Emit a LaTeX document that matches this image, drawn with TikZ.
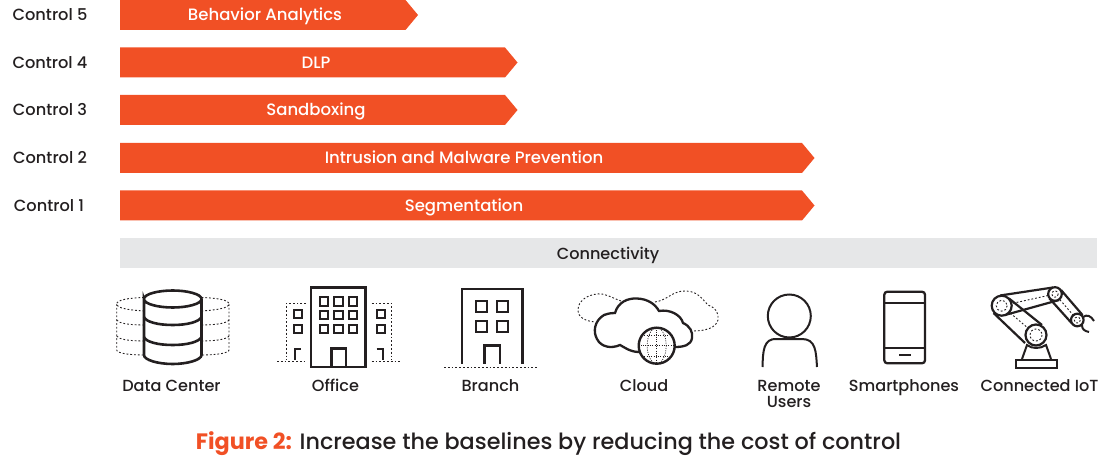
\documentclass[tikz,border=0pt]{standalone}
\usepackage{fontspec}
\setmainfont{Poppins}
\newfontfamily\medfont{Poppins Medium}
\definecolor{org}{HTML}{F15025}
\definecolor{ink}{HTML}{231F20}
\definecolor{band}{HTML}{E6E7E8}
\newcommand{\barshape}[5]{%
  \fill[org] (120,#1) -- (#2,#1) -- (#2+12.5,#1+15) -- (#2,#1+30) -- (120,#1+30) -- cycle;
  \node[bartext] (#3) at (#4,#1+15) {#5};}
\newcommand{\win}[3]{\draw[icon,line width=2] (#1-#3/2,#2-#3/2) rectangle (#1+#3/2,#2+#3/2);}
\tikzset{
  x=1pt,y=-1pt,
  fixedline/.style={inner sep=0,text height=13.5pt,text depth=1.5pt},
  bartext/.style={fixedline,text=white,font=\fontsize{16.5}{18}\selectfont\medfont},
  ctl/.style={fixedline,text=ink,font=\fontsize{16.2}{18}\selectfont\medfont},
  lbl/.style={fixedline,text=ink,font=\fontsize{16.1}{18}\selectfont\medfont},
  icon/.style={draw=ink,line width=2.1,line cap=butt,line join=miter},
  thin icon/.style={draw=ink,line width=0.9,dash pattern=on 1.8 off 2},
}
\begin{document}
\begin{tikzpicture}
\useasboundingbox (0,0) rectangle (1100,462);
% labels
\node[ctl] (c5) at (50,15) {Control 5};
\node[ctl] (c4) at (50,62.5) {Control 4};
\node[ctl] (c3) at (50,110) {Control 3};
\node[ctl] (c2) at (50,158) {Control 2};
\node[ctl] (c1) at (49,205.5) {Control 1};
% bars
\barshape{0}{405.5}{b5}{265}{Behavior Analytics}
\barshape{47.5}{505}{b4}{316}{DLP}
\barshape{95}{505}{b3}{316}{Sandboxing}
\barshape{143}{802}{b2}{464}{Intrusion and Malware Prevention}
\barshape{190.5}{802}{b1}{464}{Segmentation}
\fill[band] (120,238) rectangle (1097,268);
\node[lbl] (conn) at (608,253.5) {Connectivity};
% --- Data center
\draw[thin icon] (144,297.5) .. controls (128,298) and (116.7,300) .. (116.7,304) .. controls (116.7,308) and (128,310) .. (144,311);
\draw[thin icon] (116.7,304) -- (116.7,350) .. controls (116.7,353) and (128,355) .. (144,355);
\draw[thin icon] (116.7,320) .. controls (118,323) and (128,325) .. (144,325);
\draw[thin icon] (116.7,336) .. controls (118,339) and (128,341) .. (144,341);
\draw[thin icon] (201.5,297.5) .. controls (217,298) and (229,300) .. (229,304) .. controls (229,308) and (217,310) .. (201.5,311);
\draw[thin icon] (229,304) -- (229,350) .. controls (229,353) and (217,355) .. (201.5,355);
\draw[thin icon] (229,320) .. controls (227,323) and (217,325) .. (201.5,325);
\draw[thin icon] (229,336) .. controls (227,339) and (217,341) .. (201.5,341);
\draw[icon,line width=2.6] (144,299) .. controls (144,294) and (158,290.5) .. (172.8,290.5) .. controls (187,290.5) and (201.5,294) .. (201.5,299) .. controls (201.5,304) and (187,307.5) .. (172.8,307.5) .. controls (158,307.5) and (144,304) .. (144,299) -- (144,355) .. controls (144,360) and (158,364) .. (172.8,364) .. controls (187,364) and (201.5,360) .. (201.5,355) -- (201.5,299);
\draw[icon,line width=2.6] (144,317) .. controls (146,322) and (158,325) .. (172.8,325) .. controls (187,325) and (199,322) .. (201.5,317);
\draw[icon,line width=2.6] (144,337) .. controls (146,342) and (158,345) .. (172.8,345) .. controls (187,345) and (199,342) .. (201.5,337);
\node[lbl] (dc) at (171.5,385.5) {Data Center};
% --- Office
\draw[icon,line width=2.6] (311,287.5) rectangle (365.7,367);
\foreach \wx in {324,338.5,353}{\foreach \wy in {301.5,315,329}{\win{\wx}{\wy}{8.5}}}
\draw[icon,line width=2.5] (331.5,367) -- (331.5,348.5) -- (346,348.5) -- (346,367);
\win{297.5}{314}{8}\win{297.5}{328.5}{8}\win{380.5}{314}{8}\win{380.5}{328.5}{8}
\draw[icon] (295,360) -- (295,349) -- (301,349);
\draw[icon] (376.7,349) -- (383,349) -- (383,360);
\draw[thin icon] (306,303.3) -- (286,303.3) -- (286,360);
\draw[thin icon] (371.7,303.3) -- (391.7,303.3) -- (391.7,360);
\draw[thin icon] (277,361.7) -- (306,361.7);
\draw[thin icon] (371.7,361.7) -- (400,361.7);
\node[lbl] (office) at (335.5,385.5) {Office};
% --- Branch
\draw[icon,line width=2.6] (462,363.5) -- (462,289) -- (522.7,289) -- (522.7,363.5);
\foreach \wx in {481.7,502.3}{\foreach \wy in {306.7,326}{\win{\wx}{\wy}{11}}}
\draw[icon,line width=2.5] (484.3,363.5) -- (484.3,345.7) -- (500,345.7) -- (500,363.5);
\draw[thin icon] (444,367) -- (537,367);
\node[lbl] (branch) at (490.5,385.5) {Branch};
% --- Cloud
\draw[thin icon] (621,301) .. controls (610,297) and (605,293) .. (597,294) .. controls (587,295) and (578,301) .. (578,310) .. controls (578,318) and (586,321) .. (595,322);
\draw[thin icon] (655,302) .. controls (668,300) and (672,291) .. (685,291) .. controls (698,291) and (702,299) .. (708,305) .. controls (716,308) and (719,313) .. (718,320) .. controls (716,328) and (705,331) .. (693,331);
\draw[icon,line width=2.3] (639,352) .. controls (630,352) and (624,347) .. (620,345) .. controls (611,349) and (601,347) .. (597,339) .. controls (593,332) and (594,321) .. (604,315) .. controls (610,313) and (612,313) .. (615,313) .. controls (618,302) and (628,298) .. (637,298.5) .. controls (648,299) and (655,304) .. (659,311) .. controls (670,309) and (681,315) .. (683,323) .. controls (690,326) and (693,332) .. (692,338) .. controls (691,345) and (684,347) .. (675,347);
\draw[thin icon,line width=0.7,dash pattern=on 1 off 1.3] (656.7,327.5) -- (656.7,364);
\draw[thin icon,line width=0.7,dash pattern=on 1 off 1.3] (638.5,345.7) -- (675,345.7);
\draw[thin icon,line width=0.7,dash pattern=on 1 off 1.3] (656.7,345.7) ellipse [x radius=9.5,y radius=18];
\draw[thin icon,line width=0.7,dash pattern=on 1 off 1.3] (642,335.5) -- (671.5,335.5);
\draw[thin icon,line width=0.7,dash pattern=on 1 off 1.3] (642,356) -- (671.5,356);
\draw[icon,line width=2.4] (656.7,345.7) circle [radius=18];
\node[lbl] (cloud) at (644,385.5) {Cloud};
% --- Remote user
\draw[icon,line width=2] (789.3,316) circle [radius=21.5];
\draw[icon,line width=2] (762.5,367) .. controls (763,352) and (763,338) .. (777,339) -- (802,339) .. controls (816,339) and (816,352) .. (817,367);
\node[lbl] (remote) at (789,385.5) {Remote};
\node[lbl] (users) at (789,401.5) {Users};
% --- Phone
\draw[icon,line width=2.3,rounded corners=3] (884.3,291.7) rectangle (925,363.3);
\draw[icon,line width=1.8] (884.3,302.7) -- (925,302.7);
\draw[icon,line width=1.8] (884.3,347.7) -- (925,347.7);
\draw[icon,line width=2.1] (899.3,355) -- (910.7,355);
\node[lbl] (phones) at (904,385.5) {Smartphones};
% --- Robot
\coordinate (ja) at (1001.7,305.7);
\coordinate (jb) at (1055,294);
\coordinate (jc) at (1077.3,320);
\coordinate (jd) at (1036,335);
\draw[icon,line width=2.2] (1000,295.5) -- (1053,287.5);
\draw[icon,line width=2.2] (1005,315) -- (1059,300);
\draw[icon,line width=2.2] (993.5,313) -- (1025,343);
\draw[icon,line width=2.2] (1009,298.5) -- (1042,325);
\draw[icon,line width=2.2] (1049.5,298.5) -- (1071.5,323);
\draw[icon,line width=2.2] (1061,290) -- (1082.5,315);
\draw[thin icon] (ja) -- (jb) (ja) -- (jd) (jb) -- (jc);
\draw[icon,line width=2.2,fill=white] (ja) circle [radius=10];
\draw[icon,line width=2.2,fill=white] (jb) circle [radius=6.8];
\draw[icon,line width=2.2,fill=white] (jc) circle [radius=6.3];
\draw[icon,line width=2.2,fill=white] (jd) circle [radius=10.5];
\draw[thin icon] (ja) circle [radius=5.5] (jb) circle [radius=3.2] (jc) circle [radius=3] (jd) circle [radius=6];
\draw[icon,line width=2] (1083,317) .. controls (1087,314) and (1091,316) .. (1094,321);
\draw[icon,line width=2] (1082,325) .. controls (1082,329) and (1084,331) .. (1089,332);
\draw[icon,line width=2] (1022,359) -- (1027,345) .. controls (1032,349) and (1040,349) .. (1046,345) -- (1051,359);
\draw[icon,line width=2] (1016,359.5) rectangle (1056.7,368.3);
\node[lbl] (iot) at (1039.5,385.5) {Connected IoT};
% caption
\node[inner sep=0,text=ink,font=\fontsize{22.3}{26}\selectfont\medfont] (cap) at (548.5,443.5) {{\normalfont\bfseries\color{org}Figure 2:} Increase the baselines by reducing the cost of control};
\end{tikzpicture}
\end{document}
